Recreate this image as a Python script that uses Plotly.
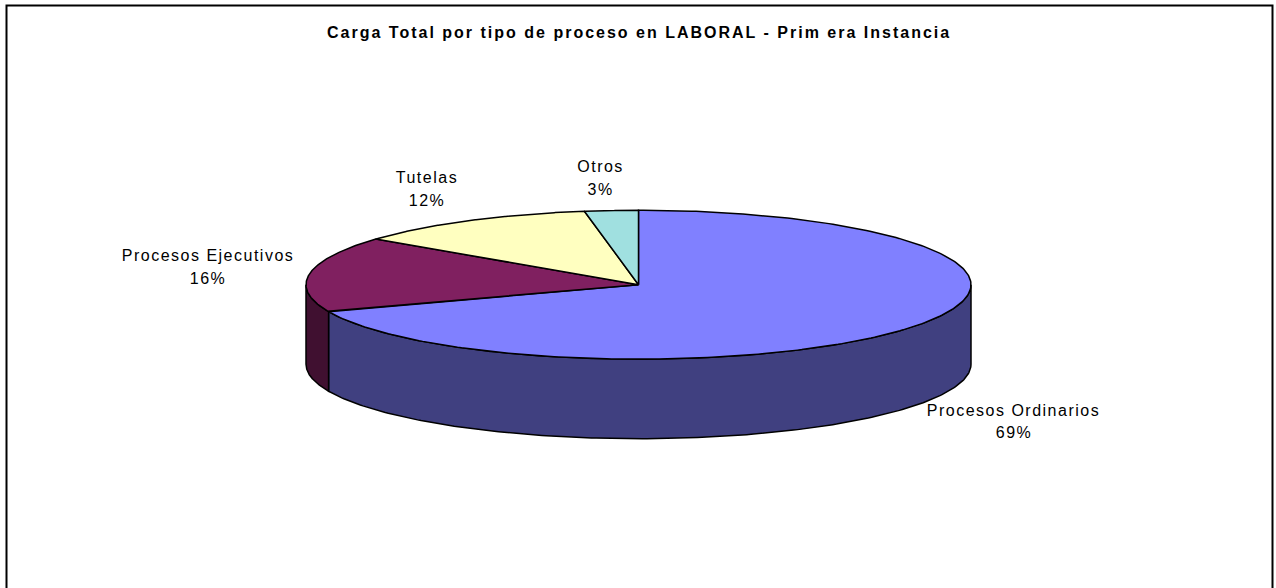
import numpy as np
import plotly.graph_objects as go

# Data
categories = ["Procesos Ordinarios", "Procesos Ejecutivos", "Tutelas", "Otros"]
values = [69.1, 16.4, 11.9, 2.6]
top_colors = ["#8080FF", "#802060", "#FFFFC0", "#A0E0E0"]
side_colors = ["#404080", "#401030", "#808060", "#507070"]
title_text = "Carga Total por tipo de proceso en LABORAL - Prim era Instancia"

# Label centres (name line, percent line)
label_x = [1013.5, 208, 426.5, 600]
label_name_y = [410, 255, 177, 166]
label_pct_y = [432, 278, 200, 189]

# Pie geometry in pixel-like axis units
CX, CY, RX, RY, DEPTH = 638.5, 284.7, 332.5, 74.5, 79.5


def ellipse(t_deg, dy=0.0):
    t = np.radians(t_deg)
    return CX + RX * np.sin(t), CY - RY * np.cos(t) + dy


fig = go.Figure()
total = sum(values)
edges = np.concatenate([[0.0], np.cumsum(values) / total * 360.0])

# Side walls (only the front half of the cylinder, 90..270 degrees clockwise from top)
for i in range(len(values)):
    a, b = max(edges[i], 90.0), min(edges[i + 1], 270.0)
    if b <= a:
        continue
    ts = np.linspace(a, b, 200)
    xt, yt = ellipse(ts)
    xb, yb = ellipse(ts[::-1], DEPTH)
    fig.add_trace(go.Scatter(
        x=np.concatenate([xt, xb, xt[:1]]), y=np.concatenate([yt, yb, yt[:1]]),
        mode="lines", fill="toself", fillcolor=side_colors[i],
        line=dict(color="black", width=1.5), hoverinfo="skip"))

# Top faces
for i in range(len(values)):
    ts = np.linspace(edges[i], edges[i + 1], 300)
    xt, yt = ellipse(ts)
    fig.add_trace(go.Scatter(
        x=np.concatenate([[CX], xt, [CX]]), y=np.concatenate([[CY], yt, [CY]]),
        mode="lines", fill="toself", fillcolor=top_colors[i],
        line=dict(color="black", width=1.5), hoverinfo="skip"))

annotations = [dict(x=638.5, y=32, xref="x", yref="y", text=title_text, showarrow=False,
                    xanchor="center", yanchor="middle",
                    font=dict(family="Liberation Sans", size=16, color="black", weight="bold"))]
for i, name in enumerate(categories):
    pct = f"{round(values[i] / total * 100)}%"
    for txt, y in ((name, label_name_y[i]), (pct, label_pct_y[i])):
        annotations.append(dict(x=label_x[i], y=y, xref="x", yref="y", text=txt, showarrow=False,
                                xanchor="center", yanchor="middle",
                                font=dict(family="Liberation Sans", size=16, color="black")))

fig.update_layout(
    width=1276, height=588, margin=dict(l=0, r=0, t=0, b=0),
    paper_bgcolor="white", plot_bgcolor="white", showlegend=False,
    xaxis=dict(range=[0, 1276], visible=False, fixedrange=True),
    yaxis=dict(range=[588, 0], visible=False, fixedrange=True),
    annotations=annotations,
    shapes=[dict(type="rect", xref="x", yref="y", x0=6.5, y0=5.5, x1=1272.5, y1=600,
                 line=dict(color="black", width=2), layer="below")],
)

post = """
document.body.style.margin = '0';
document.documentElement.style.overflow = 'hidden';
document.querySelectorAll('.annotation-text').forEach(function (t, i) {
  t.style.letterSpacing = (t.textContent.indexOf('Carga') === 0) ? '2px' : '1.5px';
});
"""
fig.write_html("out.html", post_script=post, config={"displayModeBar": False})
